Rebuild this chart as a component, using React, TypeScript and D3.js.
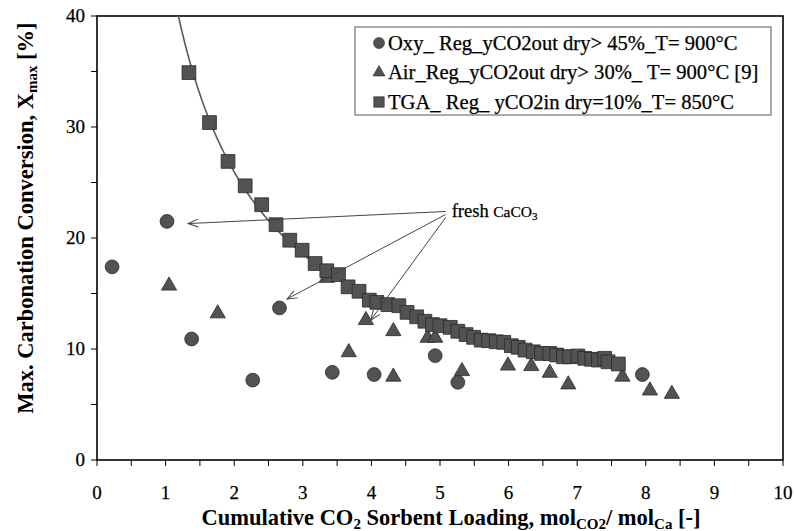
import * as d3 from 'd3'

// Oxy regeneration (circles)
const oxyX = [0.22, 1.02, 1.38, 2.27, 2.66, 3.43, 4.04, 4.93, 5.26, 7.95]
const oxyY = [17.4, 21.5, 10.9, 7.2, 13.7, 7.9, 7.7, 9.4, 7.0, 7.7]

// Air regeneration (triangles)
const airX = [1.05, 1.76, 3.35, 3.67, 3.92, 4.32, 4.32, 4.82, 4.93, 5.32, 5.99, 6.33, 6.6, 6.87, 7.66, 8.06, 8.38]
const airY = [15.7, 13.2, 16.4, 9.7, 12.6, 11.6, 7.5, 11.0, 11.0, 8.0, 8.5, 8.45, 7.85, 6.8, 7.5, 6.25, 5.95]

// TGA regeneration (squares)
const tgaX = [1.34, 1.64, 1.91, 2.16, 2.4, 2.61, 2.81, 2.99, 3.18, 3.35, 3.52, 3.66, 3.82, 3.97, 4.08, 4.24, 4.4, 4.52,
  4.66, 4.78, 4.89, 5.0, 5.15, 5.26, 5.38, 5.49, 5.6, 5.71, 5.82, 5.93, 6.04, 6.14, 6.24, 6.36, 6.48, 6.6, 6.7, 6.8,
  6.89, 7.01, 7.11, 7.21, 7.31, 7.4, 7.45, 7.6]
const tgaY = [34.9, 30.4, 26.9, 24.7, 23.0, 21.2, 19.8, 18.9, 17.7, 17.05, 16.7, 15.6, 15.2, 14.4, 14.2, 14.0, 13.9, 13.3,
  12.9, 12.5, 12.2, 12.1, 11.95, 11.6, 11.3, 11.05, 10.8, 10.75, 10.65, 10.6, 10.3, 10.15, 9.9, 9.75, 9.6, 9.6, 9.46, 9.3,
  9.3, 9.37, 9.16, 9.07, 9.0, 9.16, 8.85, 8.65]

const xTicks = [0, 1, 2, 3, 4, 5, 6, 7, 8, 9, 10]
const yTicks = [0, 10, 20, 30, 40]

const legendLabels = [
  'Oxy_ Reg_yCO2out dry> 45%_T= 900°C',
  'Air_Reg_yCO2out dry> 30%_ T= 900°C [9]',
  'TGA_ Reg_ yCO2in dry=10%_T= 850°C',
]

// annotation "fresh CaCO3": label anchor and arrow targets (data units)
const noteAt = [5.17, 22.3]
const noteTargets = [[1.33, 21.3], [2.77, 14.5], [3.99, 12.6]]

const FONT = 'Liberation Serif, Times New Roman, serif'
const FILL = '#525252'
const EDGE = '#2a2a2a'

export default function App() {
  const x = d3.scaleLinear().domain([0, 10]).range([97, 783])
  const y = d3.scaleLinear().domain([0, 40]).range([460, 16])

  const circle = d3.symbol(d3.symbolCircle, 150)()
  const tri = d3.symbol(d3.symbolTriangle, 100)()
  const square = d3.symbol(d3.symbolSquare, 190)()

  // power-law trendline (least squares in log-log), like the spreadsheet fit
  const lx = tgaX.map(Math.log), ly = tgaY.map(Math.log)
  const mx = d3.mean(lx)!, my = d3.mean(ly)!
  const b = d3.sum(lx, (v, i) => (v - mx) * (ly[i] - my)) / d3.sum(lx, v => (v - mx) ** 2)
  const a = Math.exp(my - b * mx)
  const fitXs = d3.range(1.0, 7.6, 0.02)
  const fitLine = d3.line<number>().x(d => x(d)).y(d => y(a * Math.pow(d, b)))(fitXs)

  const minorX = d3.range(0, 10.01, 0.5)
  const minorY = d3.range(0, 40.01, 5)
  // a hairline stroke thickens the thin serif glyphs a little, like the source
  const tf = { fontFamily: FONT, stroke: '#000', strokeWidth: 0.25 }
  const tb = { fontFamily: FONT }

  return (
    <svg width={796} height={531} style={{ position: 'absolute', left: 0, top: 0, background: '#fff' }}>
      <defs>
        <clipPath id="plot">
          <rect x={97} y={16} width={686} height={444} />
        </clipPath>
        <marker id="arr" viewBox="0 0 12 10" refX={11} refY={5} markerWidth={12} markerHeight={10}
          markerUnits="userSpaceOnUse" orient="auto">
          <path d="M1,1 L11,5 L1,9" fill="none" stroke="#444" strokeWidth={1} />
        </marker>
      </defs>

      {/* frame */}
      <rect x={97} y={16} width={686} height={444} fill="none" stroke="#000" strokeWidth={1.6} />

      {/* ticks */}
      {minorX.map(v => (
        <line key={'tx' + v} x1={x(v)} x2={x(v)} y1={460} y2={466} stroke="#000" strokeWidth={1} />
      ))}
      {minorY.map(v => (
        <line key={'ty' + v} x1={91} x2={97} y1={y(v)} y2={y(v)} stroke="#000" strokeWidth={1} />
      ))}
      {xTicks.map(v => (
        <text key={'lx' + v} x={x(v)} y={499} fontSize={19} textAnchor="middle" style={tf}>{v}</text>
      ))}
      {yTicks.map(v => (
        <text key={'ly' + v} x={85} y={y(v) + 6} fontSize={19} textAnchor="end" style={tf}>{v}</text>
      ))}

      {/* axis titles */}
      <text x={451} y={525} fontSize={22.5} fontWeight="bold" textAnchor="middle" style={tb}>
        Cumulative CO<tspan fontSize={15} dy={4}>2</tspan>
        <tspan dy={-4}> Sorbent Loading,  mol</tspan>
        <tspan fontSize={15} dy={4}>CO2</tspan>
        <tspan dy={-4}>/ mol</tspan>
        <tspan fontSize={15} dy={4}>Ca</tspan>
        <tspan dy={-4}> [-]</tspan>
      </text>
      <text transform="translate(33,218) rotate(-90)" fontSize={22.5} fontWeight="bold" textAnchor="middle" style={tb}>
        Max. Carbonation Conversion, X<tspan fontSize={15} dy={4}>max</tspan>
        <tspan dy={-4}> [%]</tspan>
      </text>

      {/* trendline */}
      <path d={fitLine ?? ''} fill="none" stroke="#5a5a5a" strokeWidth={1.6} clipPath="url(#plot)" />

      {/* series */}
      {oxyX.map((v, i) => (
        <path key={'o' + i} d={circle!} transform={`translate(${x(v)},${y(oxyY[i])})`} fill={FILL} stroke={EDGE} strokeWidth={0.8} />
      ))}
      {airX.map((v, i) => (
        <path key={'a' + i} d={tri!} transform={`translate(${x(v)},${y(airY[i])})`} fill={FILL} stroke={EDGE} strokeWidth={0.8} />
      ))}
      {tgaX.map((v, i) => (
        <path key={'t' + i} d={square!} transform={`translate(${x(v)},${y(tgaY[i])})`} fill={FILL} stroke={EDGE} strokeWidth={0.8} />
      ))}

      {/* annotation */}
      {noteTargets.map((t, i) => (
        <line key={'n' + i} x1={x(noteAt[0]) - 6} y1={y(noteAt[1]) - 1 + i * 3} x2={x(t[0])} y2={y(t[1])}
          stroke="#444" strokeWidth={1} markerEnd="url(#arr)" />
      ))}
      <text x={x(noteAt[0])} y={y(noteAt[1]) + 5} fontSize={18.5} style={tf}>
        fresh <tspan fontSize={15.5}>CaCO</tspan><tspan fontSize={11} dy={3}>3</tspan>
      </text>

      {/* legend */}
      <rect x={355} y={27} width={416} height={88} fill="#fff" stroke="#555" strokeWidth={1} />
      {legendLabels.map((s, i) => {
        const cy = 43 + i * 29.5
        const sym = i === 0 ? d3.symbol(d3.symbolCircle, 95)() : i === 1 ? d3.symbol(d3.symbolTriangle, 62)() : d3.symbol(d3.symbolSquare, 110)()
        return (
          <g key={'lg' + i}>
            <path d={sym!} transform={`translate(379,${cy})`} fill={FILL} stroke={EDGE} strokeWidth={0.6} />
            <text x={388} y={cy + 6.5} fontSize={20.6} style={tf}>{s}</text>
          </g>
        )
      })}
    </svg>
  )
}
